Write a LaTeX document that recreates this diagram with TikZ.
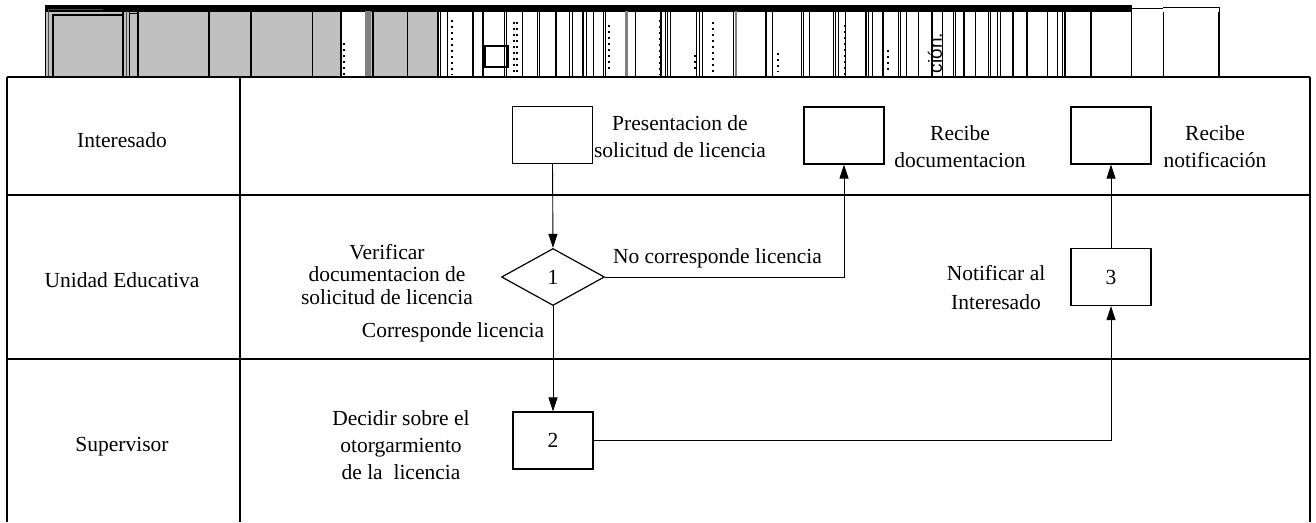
\documentclass[tikz,border=0pt]{standalone}
\usepackage{fontspec}
\setmainfont{Liberation Serif}
\newfontfamily\stripfont{Liberation Sans}
\usetikzlibrary{shapes.geometric,arrows.meta}
\definecolor{stripgrey}{HTML}{C0C0C0}
\tikzset{
  tableline/.style={line width=1.4pt},
  procbox/.style={draw, line width=1.2pt, minimum width=80pt, minimum height=57pt, inner sep=0pt, font=\rmfamily\fontsize{21.5}{24}\selectfont},
  decision/.style={draw, diamond, line width=1.2pt, minimum width=103pt, minimum height=57pt, inner sep=0pt, font=\rmfamily\fontsize{21.5}{24}\selectfont},
  lbl/.style={align=center, inner sep=0pt, font=\rmfamily\fontsize{21.5}{27}\selectfont},
  flow/.style={line width=0.9pt, -{Triangle[length=14pt,width=9pt]}},
  thin stripe/.style={line width=0.9pt},
  thick stripe/.style={line width=2pt},
  dots/.style={line width=1.6pt, dash pattern=on 1.6pt off 4.4pt}
}
\begin{document}
\begin{tikzpicture}[x=1pt,y=-1pt]
\useasboundingbox (0,0) rectangle (1316,522);
\fill[white] (0,0) rectangle (1316,522);

% ---------- top strip ----------
\fill[stripgrey] (45,8) rectangle (438,77);
\fill[white] (342,11) rectangle (365,77);
\fill[white] (438,11) rectangle (1219,77);
\fill[black] (45,5) rectangle (1132,12);
\draw[line width=1pt,gray!60!black] (48,9) -- (48,77);
\draw[line width=1pt,gray!60!black] (48,9) -- (103,9);
\draw[line width=1.2pt] (53,15) rectangle (123,77);
\draw[line width=1pt,gray!60!black] (126,11) -- (126,77);
\draw[line width=1pt] (129,13) -- (138,13);
\fill[gray] (365,11) rectangle (371,77);
\fill[gray] (625,11) rectangle (628,77);
\fill[gray] (735,11) rectangle (737,77);
\foreach \x in {45,129,312,407,440,447,472,473,504,506,522,537,539,569,572,586,593,603,605,635,665,667,670,696,699,702,733,772,801,803,809,833,835,838,845,868,872,882,883,898,900,906,918,942,953,955,975,988,990,997,1000,1012,1013,1047,1057,1062,1131,1163}
  \draw[thin stripe] (\x,12) -- (\x,77);
\foreach \x in {123,138,209,251,341,373,438,483,556,583,661,766,866,932,964,1027,1065,1091,1219}
  \draw[thick stripe] (\x,12) -- (\x,77);
\draw[line width=1pt] (1093,11) -- (1131,11);
\draw[line width=1pt] (1131,8) -- (1163,8);
\draw[line width=1pt] (1163,7) -- (1219,7) -- (1219,12);
\draw[line width=1pt] (45,77) -- (1219,77);
\draw[line width=1.2pt] (485,46) rectangle (508,67);
\foreach \x/\a/\b in {344/43/75,452/20/75,514/22/75,517/22/75,556/15/75,609/25/72,660/20/75,695/55/72,713/22/75,766/25/75,778/53/72,845/25/75,888/50/72}
  \draw[dots] (\x,\a) -- (\x,\b);
\node[rotate=90, inner sep=0pt, font=\stripfont\fontsize{19}{19}\selectfont] (cion) at (935,53) {ción.};

% ---------- swimlane table ----------
\draw[tableline] (7,77) -- (1310,77);
\draw[tableline] (7,77) -- (7,522);
\draw[tableline] (240,77) -- (240,522);
\draw[tableline] (1310,77) -- (1310,522);
\draw[tableline] (7,195) -- (1310,195);
\draw[tableline] (7,359) -- (1310,359);

\node[lbl] (laneA) at (122,140) {Interesado};
\node[lbl] (laneB) at (122,280) {Unidad Educativa};
\node[lbl] (laneC) at (122,447) {Supervisor};

% ---------- process nodes ----------
\node[procbox] (pres) at (552.5,135) {};
\node[procbox] (recdoc) at (844,135.5) {};
\node[procbox] (recnot) at (1111,135.5) {};
\node[decision] (d1) at (553,277) {1};
\node[procbox] (p3) at (1111,277) {3};
\node[procbox] (p2) at (553,440.5) {2};

% ---------- labels ----------
\node[lbl] (tpres) at (680,136.5) {Presentacion de\\solicitud de licencia};
\node[lbl] (trecdoc) at (960,146.5) {Recibe\\documentacion};
\node[lbl] (trecnot) at (1215,146.5) {Recibe\\notificación};
\node[lbl, font=\rmfamily\fontsize{21.5}{22.5}\selectfont] (tver) at (387,274.5) {Verificar\\documentacion de\\solicitud de licencia};
\node[lbl] (tno) at (717.5,258) {No corresponde licencia};
\node[lbl] (tsi) at (453,332) {Corresponde licencia};
\node[lbl, font=\rmfamily\fontsize{21.5}{29}\selectfont] (tnot) at (996,287.5) {Notificar al\\Interesado};
\node[lbl] (tdec) at (401,445) {Decidir sobre el\\otorgarmiento\\de la\ \ licencia};

% ---------- connectors ----------
\draw[flow] (pres.south) -- (d1.north);
\draw[flow] (d1.east) -| (recdoc.south);
\draw[flow] (d1.south) -- (p2.north);
\draw[flow] (p2.east) -| (p3.south);
\draw[flow] (p3.north) -- (recnot.south);
\end{tikzpicture}
\end{document}
